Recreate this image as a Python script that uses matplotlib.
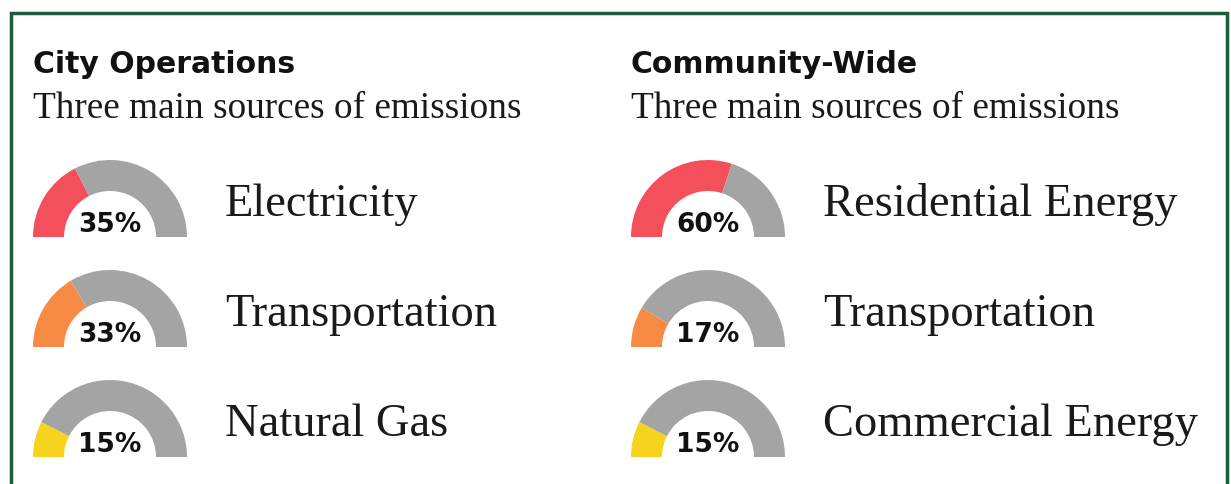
import matplotlib
matplotlib.use("Agg")
import matplotlib.pyplot as plt
from matplotlib.patches import Rectangle

# --- data ---
left_title = "City Operations"
right_title = "Community-Wide"
subtitle = "Three main sources of emissions"

city_sources = ["Electricity", "Transportation", "Natural Gas"]
city_shares = [35, 33, 15]

community_sources = ["Residential Energy", "Transportation", "Commercial Energy"]
community_shares = [60, 17, 15]

share_colors = ["#F4505B", "#F78A45", "#F6D31C"]
rest_color = "#A4A4A4"
border_color = "#1E5C3E"

W, H = 1231, 485
fig = plt.figure(figsize=(W / 100, H / 100), dpi=100)
ax = fig.add_axes([0, 0, 1, 1])
fig.patch.set_facecolor("white")


def yy(y_img):
    # pixel row (top=0) -> data y (bottom=0)
    return H - y_img


def gauge(cx, base_img, pct, color):
    ax.pie([pct, 100 - pct, 100], colors=[color, rest_color, "none"],
           startangle=180, counterclock=False, center=(cx, yy(base_img)),
           radius=77, wedgeprops=dict(width=31, linewidth=0), frame=True)
    ax.text(cx, yy(base_img - 6), f"{pct}%", ha="center", va="baseline",
            fontsize=19, fontweight="heavy", family="DejaVu Sans", color="#111111")


columns = [
    (33, 110, 225, left_title, city_sources, city_shares),
    (631, 708, 823, right_title, community_sources, community_shares),
]
row_bases = [238, 348, 458]

for tx, cx, lx, title, sources, shares in columns:
    ax.text(tx, yy(73), title, ha="left", va="baseline", fontsize=21.5,
            fontweight="bold", family="DejaVu Sans", color="#111111")
    ax.text(tx, yy(118), subtitle, ha="left", va="baseline", fontsize=26.8,
            family="Liberation Serif", color="#1a1a1a")
    for i, (src, pct) in enumerate(zip(sources, shares)):
        gauge(cx, row_bases[i], pct, share_colors[i])
        ax.text(lx, yy(row_bases[i] - 22), src, ha="left", va="baseline",
                fontsize=33.5, family="Liberation Serif", color="#1a1a1a")

# green frame (bottom edge runs off the image)
ax.add_patch(Rectangle((11, yy(500)), 1216, 486, fill=False,
                       edgecolor=border_color, linewidth=2.5))

ax.set_xlim(0, W)
ax.set_ylim(0, H)
ax.set_aspect("auto")
ax.axis("off")

fig.savefig("out.png", dpi=100)
